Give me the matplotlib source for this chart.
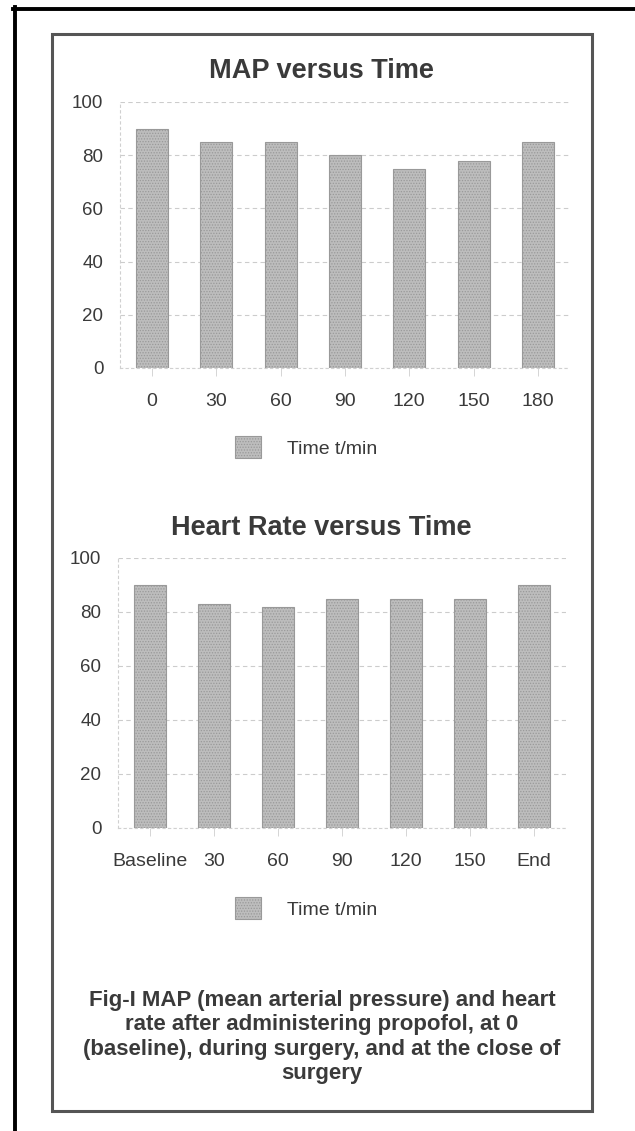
import matplotlib
matplotlib.use("Agg")
import matplotlib.pyplot as plt
from matplotlib.lines import Line2D
from matplotlib.patches import Rectangle

plt.rcParams["font.family"] = ["Liberation Sans", "DejaVu Sans"]
plt.rcParams["hatch.color"] = "#8a8a8a"
plt.rcParams["hatch.linewidth"] = 0.6

# Data
map_labels = ["0", "30", "60", "90", "120", "150", "180"]
map_values = [90, 85, 85, 80, 75, 78, 85]

hr_labels = ["Baseline", "30", "60", "90", "120", "150", "End"]
hr_values = [90, 83, 82, 85, 85, 85, 90]

y_ticks = [0, 20, 40, 60, 80, 100]
legend_label = "Time t/min"
caption = ("Fig-I MAP (mean arterial pressure) and heart\n"
           "rate after administering propofol, at 0\n"
           "(baseline), during surgery, and at the close of\n"
           "surgery")

W, H = 635, 1131
TXT = "#3a3a3a"

fig = plt.figure(figsize=(W / 100, H / 100), dpi=100)
fig.patch.set_facecolor("white")


def px_box(x0, x1, y_top, y_bot):
    # pixel box -> figure fraction [left, bottom, width, height]
    return [x0 / W, 1 - y_bot / H, (x1 - x0) / W, (y_bot - y_top) / H]


def bar_chart(box, labels, values, title, title_y, legend_y):
    ax = fig.add_axes(box)
    bars = ax.bar(range(len(values)), values, width=0.5, color="#bdbdbd",
                  edgecolor="#999999", linewidth=0.8, hatch="......",
                  label=legend_label, zorder=3)
    ax.set_xlim(-0.5, len(values) - 0.5)
    ax.set_ylim(0, 100)
    ax.set_yticks(y_ticks)
    ax.set_xticks(range(len(labels)))
    ax.set_xticklabels(labels)
    ax.tick_params(axis="y", length=0, pad=12, labelsize=13.5, labelcolor=TXT)
    ax.tick_params(axis="x", length=6, width=0.6, color="#cfcfcf", pad=12,
                   labelsize=14, labelcolor=TXT)
    ax.yaxis.grid(True, linestyle=(0, (4, 3)), color="#cccccc", linewidth=0.8)
    ax.set_axisbelow(True)
    for side in ["top", "right"]:
        ax.spines[side].set_visible(False)
    for side in ["left", "bottom"]:
        ax.spines[side].set_color("#d0d0d0")
        ax.spines[side].set_linestyle((0, (2, 3)))
        ax.spines[side].set_linewidth(0.8)
    fig.text(321 / W, 1 - title_y / H, title,
             ha="center", va="center", fontsize=19.5, fontweight="bold",
             color=TXT)
    fig.legend(handles=[bars], labels=[legend_label], loc="center",
               bbox_to_anchor=(306 / W, 1 - legend_y / H), frameon=False,
               fontsize=14, handlelength=1.35, handleheight=1.3,
               handletextpad=1.3, labelcolor=TXT)
    return ax


bar_chart(px_box(120, 570, 102, 368), map_labels, map_values,
          "MAP versus Time", 71, 447)
bar_chart(px_box(118, 566, 558, 828), hr_labels, hr_values,
          "Heart Rate versus Time", 528, 908)

fig.text(322 / W, 1 - 1037 / H, caption, ha="center", va="center",
         fontsize=16, fontweight="bold", color=TXT, linespacing=1.2)

# inner frame
fig.add_artist(Rectangle((51.5 / W, 1 - 1110.5 / H), 540 / W, 1077 / H,
                         transform=fig.transFigure, fill=False,
                         edgecolor="#555555", linewidth=2.2))
# outer scan border (top and left only)
fig.add_artist(Line2D([13 / W, 1.0], [1 - 8.5 / H, 1 - 8.5 / H],
                      transform=fig.transFigure, color="black", linewidth=2.8))
fig.add_artist(Line2D([14.5 / W, 14.5 / W], [1 - 7 / H, 0.0],
                      transform=fig.transFigure, color="black", linewidth=2.8))

fig.savefig("out.png", dpi=100, facecolor="white")
